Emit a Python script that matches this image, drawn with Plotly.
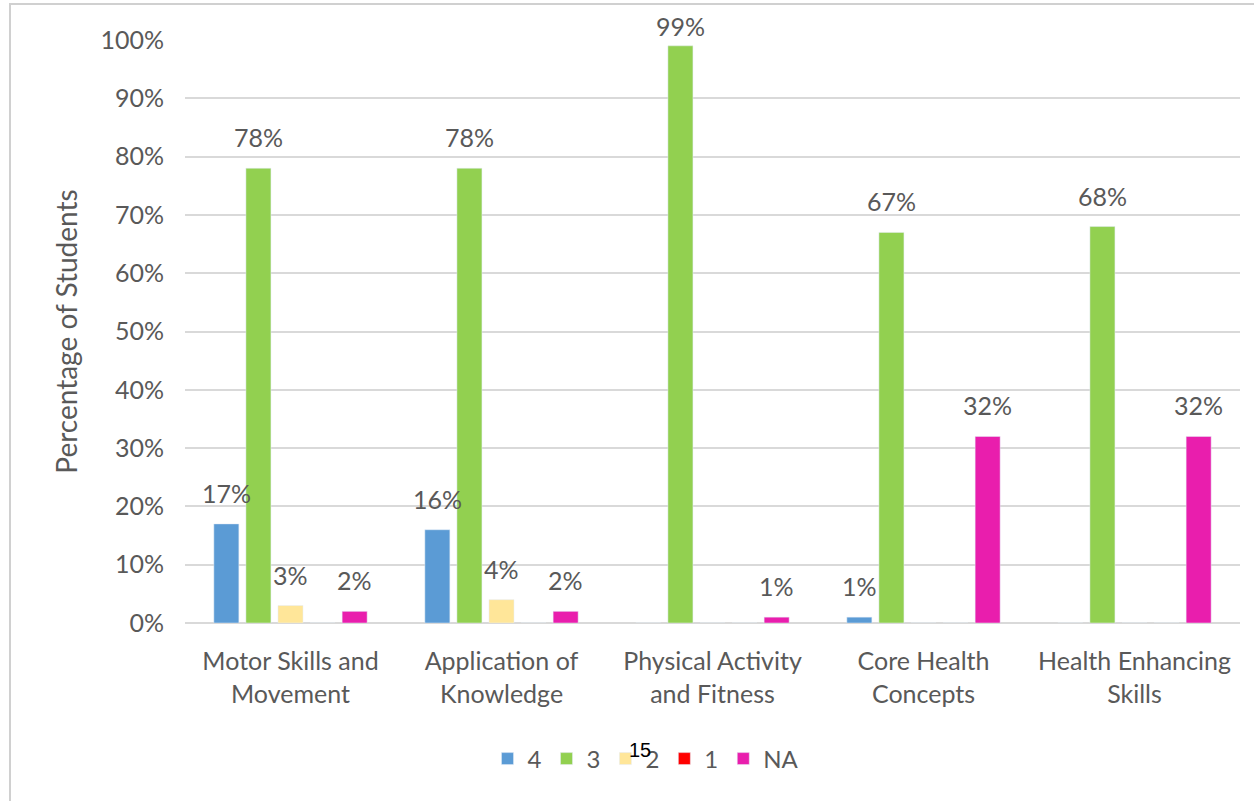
import plotly.graph_objects as go

categories = ["Motor Skills and<br>Movement", "Application of<br>Knowledge",
              "Physical Activity<br>and Fitness", "Core Health<br>Concepts",
              "Health Enhancing<br>Skills"]
series_names = ["4", "3", "2", "1", "NA"]
vals_4 = [17, 16, 0, 1, 0]
vals_3 = [78, 78, 99, 67, 68]
vals_2 = [3, 4, 0, 0, 0]
vals_1 = [0, 0, 0, 0, 0]
vals_na = [2, 2, 1, 32, 32]
colors = ["#5B9BD5", "#92D050", "#FFE699", "#FF0000", "#E91EAD"]
tick_vals = [0, 10, 20, 30, 40, 50, 60, 70, 80, 90, 100]
tick_text = [f"{v}%" for v in tick_vals]

FONT = "Lato, Open Sans, sans-serif"
GREY = "#595959"
BARGAP = 0.24

W, H = 1254, 801
L, R, T, B = 185, 14, 40, 178
pw, ph = W - L - R, H - T - B

def px(x):
    return (x - L) / pw

def py(y):
    return (H - B - y) / ph

all_series = [vals_4, vals_3, vals_2, vals_1, vals_na]
n = len(all_series)
slot = (1 - BARGAP) / n

fig = go.Figure()
annotations = []
for k, (name, vals, col) in enumerate(zip(series_names, all_series, colors)):
    fig.add_trace(go.Bar(
        x=list(range(len(categories))), y=vals, name=name, marker_color=col,
    ))
    off = (k - (n - 1) / 2) * slot
    for i, v in enumerate(vals):
        if v > 0:
            annotations.append(dict(
                x=i + off, y=v, xref="x", yref="y", text=f"{v}%", showarrow=False,
                yanchor="bottom", yshift=14 if v < 95 else 3,
                font=dict(family=FONT, size=25, color=GREY)))

annotations.append(dict(text="15", xref="paper", yref="paper", x=px(640), y=py(750),
                        yanchor="middle", xanchor="center", showarrow=False,
                        font=dict(family="Liberation Sans, Arial", size=20, color="black")))

fig.update_layout(
    width=W, height=H,
    margin=dict(l=L, r=R, t=T, b=B),
    paper_bgcolor="white", plot_bgcolor="white",
    barmode="group", bargap=BARGAP, bargroupgap=0.22,
    font=dict(family=FONT, color=GREY, size=24),
    showlegend=True,
    legend=dict(orientation="h", x=px(646), xanchor="center", y=py(759), yanchor="middle",
                font=dict(family=FONT, size=24, color=GREY), traceorder="normal",
                itemwidth=30),
    yaxis=dict(range=[0, 100], tickvals=tick_vals, ticktext=tick_text,
               showgrid=True, gridcolor="#D9D9D9", gridwidth=2,
               zeroline=True, zerolinecolor="#D9D9D9", zerolinewidth=2,
               tickfont=dict(family=FONT, size=25, color=GREY), ticks="",
               ticklabelstandoff=20,
               title=dict(text="Percentage of Students", standoff=14,
                          font=dict(family=FONT, size=28, color=GREY))),
    xaxis=dict(tickmode="array", tickvals=list(range(len(categories))), ticktext=categories,
               range=[-0.5, len(categories) - 0.5],
               tickfont=dict(family=FONT, size=25, color=GREY), showline=False, ticks="",
               ticklabelstandoff=21),
    shapes=[dict(type="rect", xref="paper", yref="paper",
                 x0=px(10), x1=px(1270), y0=py(820), y1=py(4),
                 line=dict(color="#D0D0D0", width=2), fillcolor="rgba(0,0,0,0)", layer="below")],
    annotations=annotations,
)

fig.write_html("out.html")
